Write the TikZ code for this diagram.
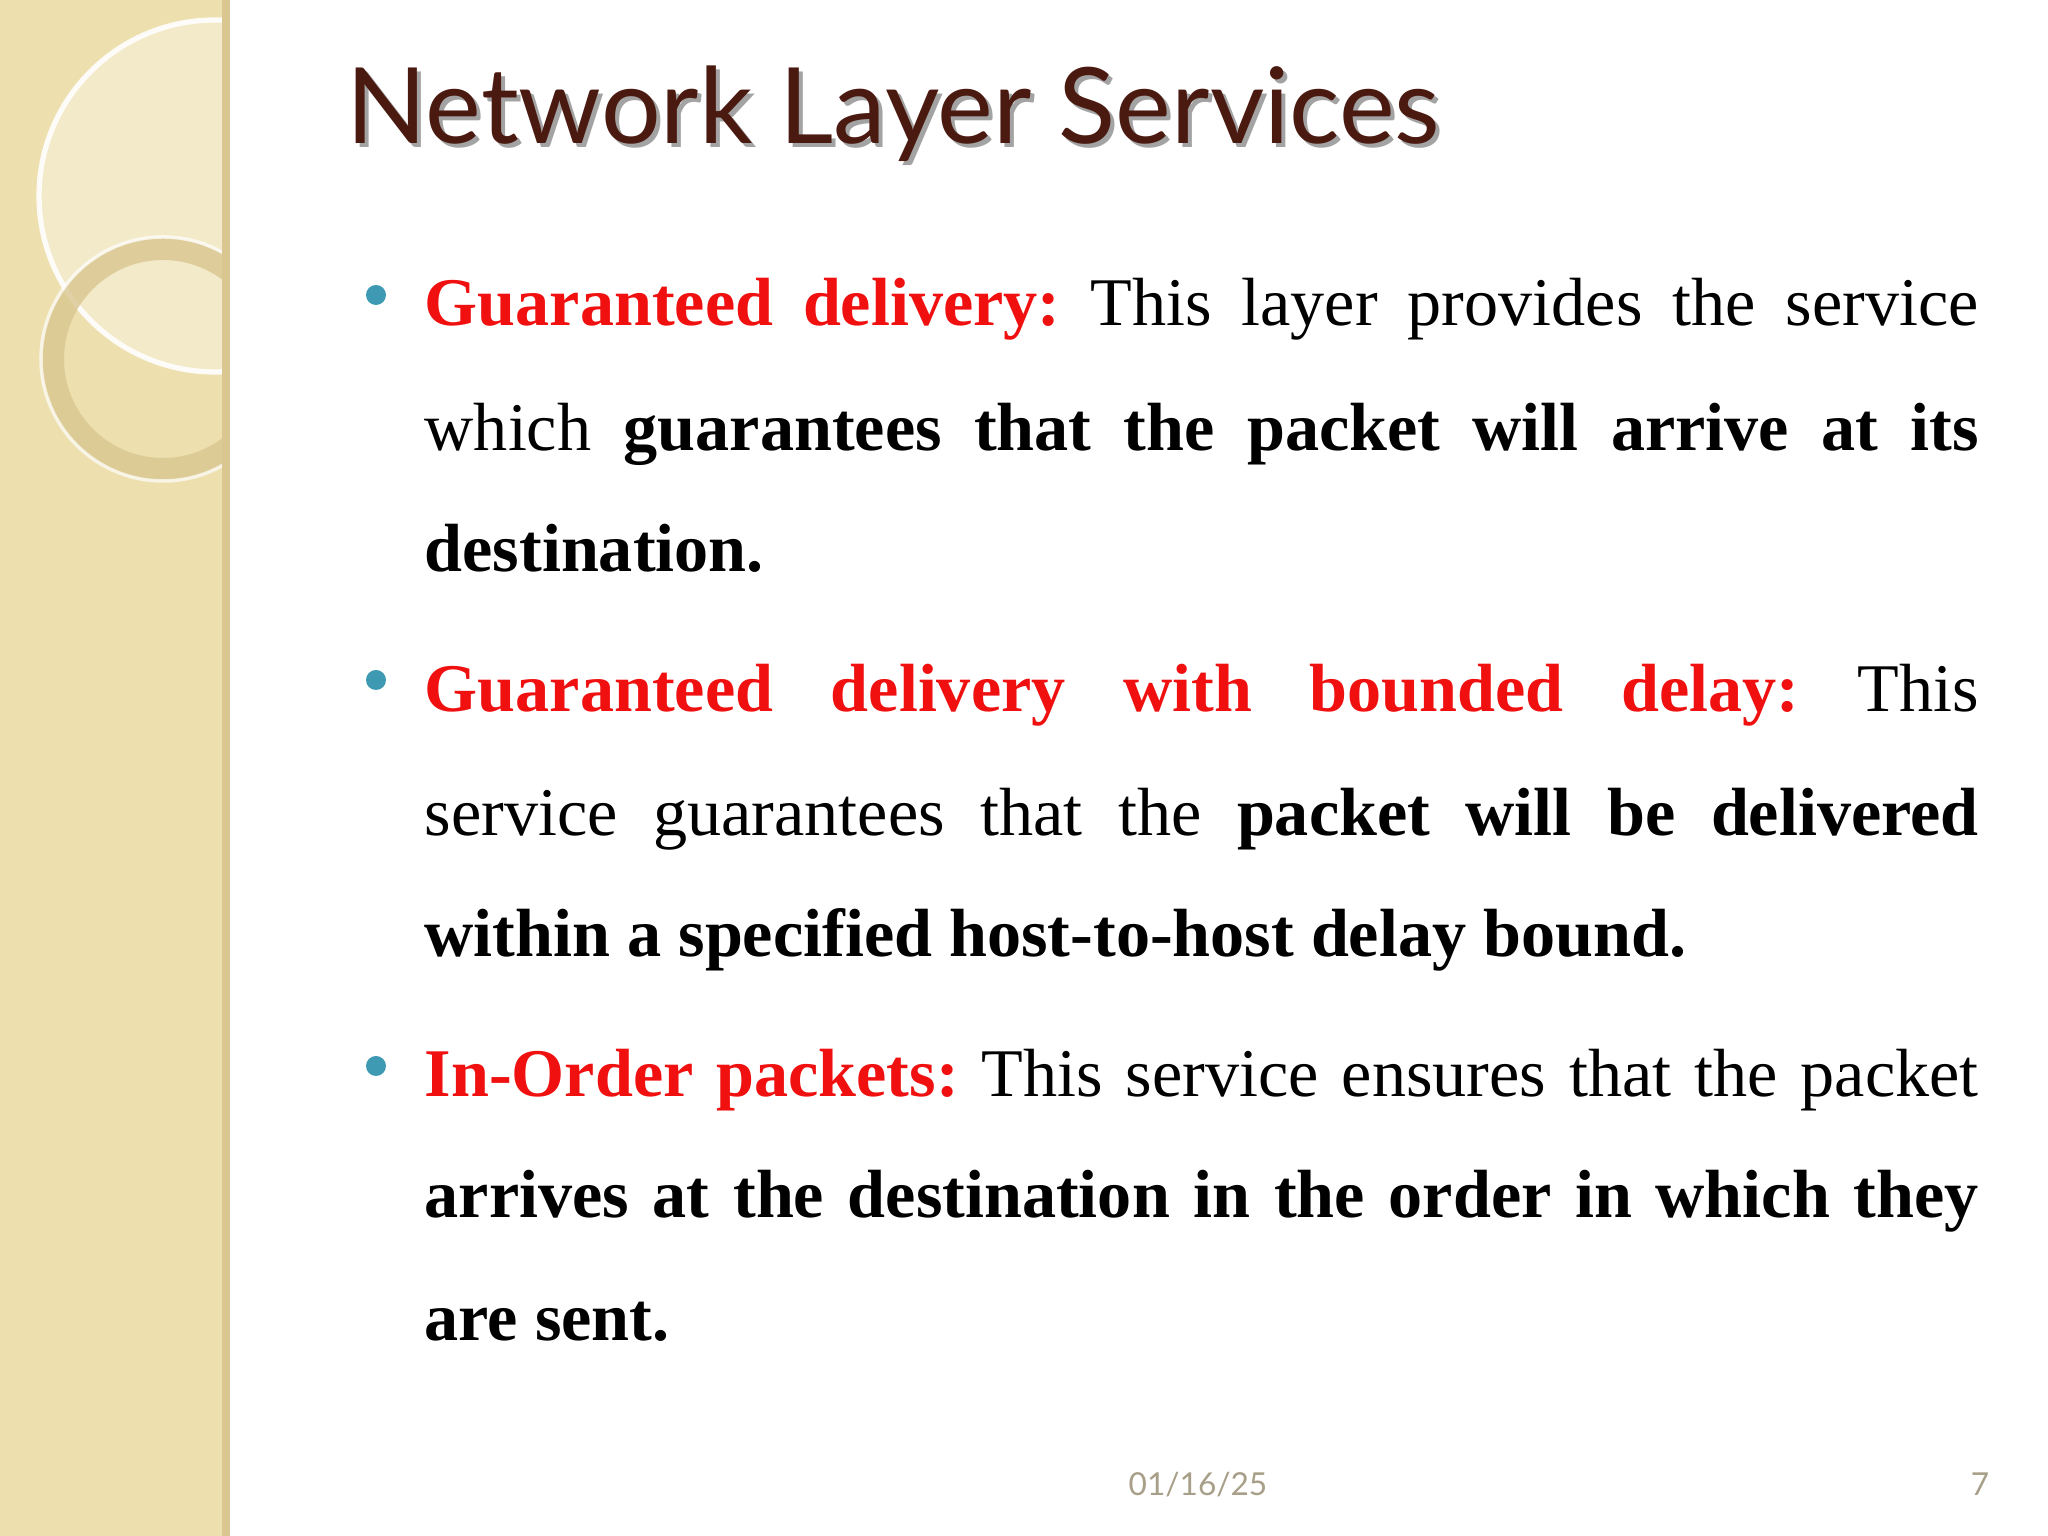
\documentclass[tikz,border=0pt]{standalone}
\usepackage{fontspec}
\setmainfont{Liberation Serif}
\newfontfamily\titlefont{Lato}
\frenchspacing
\definecolor{strip}{HTML}{EDDFAE}
\definecolor{stripdk}{HTML}{D9C690}
\definecolor{titlec}{HTML}{4A1A10}
\definecolor{bul}{HTML}{3E9AB2}
\definecolor{redt}{HTML}{F01010}
\definecolor{foot}{HTML}{A89F88}
\tikzset{ln/.style={anchor=base west,inner sep=0pt,font=\fontsize{19.4}{24}\selectfont},
 bulletdot/.style={circle,fill=bul,inner sep=0pt,minimum size=0.2cm}}
\newcommand{\jl}[1]{\makebox[15.54cm][s]{#1}}
\newcommand{\rb}[1]{\textcolor{redt}{\bfseries #1}}
\begin{document}
\begin{tikzpicture}
\useasboundingbox (0,0) rectangle (20.48,15.36);
\fill[white] (0,0) rectangle (20.48,15.36);
\fill[strip] (0,0) rectangle (2.26,15.36);
\begin{scope}
\clip (0,0) rectangle (2.26,15.36);
\fill[white,opacity=0.35] (2.15,13.4) circle (1.76);
\draw[white,line width=1.5pt,opacity=0.9] (2.15,13.4) circle (1.76);
\draw[stripdk,line width=0.22cm,opacity=0.8] (1.63,11.77) circle (1.1);
\draw[white,line width=1pt,opacity=0.7] (1.63,11.77) circle (1.22);
\end{scope}
\draw[stripdk,line width=2pt] (2.26,0) -- (2.26,15.36);
\node[anchor=base west,inner sep=0pt,text=black!60,opacity=0.6,font=\titlefont\fontsize{30}{36}\selectfont] (tsh) at (3.50,13.88) {Network Layer Services};
\node[anchor=base west,inner sep=0pt,text=titlec,font=\titlefont\fontsize{30}{36}\selectfont] (title) at (3.46,13.92) {Network Layer Services};
\node[bulletdot] (b1) at (3.76,12.41) {};
\node[bulletdot] (b2) at (3.76,8.56) {};
\node[bulletdot] (b3) at (3.76,4.70) {};
\node[ln] (l1) at (4.24,12.10) {\jl{\rb{Guaranteed delivery:} This layer provides the service}};
\node[ln] (l2) at (4.24,10.85) {\jl{which \textbf{guarantees that the packet will arrive at its}}};
\node[ln] (l3) at (4.24,9.64) {\textbf{destination.}};
\node[ln] (l4) at (4.24,8.24) {\jl{\rb{Guaranteed delivery with bounded delay:} This}};
\node[ln] (l5) at (4.24,7.00) {\jl{service guarantees that the \textbf{packet will be delivered}}};
\node[ln] (l6) at (4.24,5.79) {\textbf{within a specified host-to-host delay bound.}};
\node[ln] (l7) at (4.24,4.39) {\jl{\rb{In-Order packets:} This service ensures that the packet}};
\node[ln] (l8) at (4.24,3.18) {\jl{\textbf{arrives at the destination in the order in which they}}};
\node[ln] (l9) at (4.24,1.95) {\textbf{are sent.}};
\node[anchor=base,inner sep=0pt,text=foot,font=\titlefont\fontsize{9}{11}\selectfont] (date) at (11.98,0.40) {01/16/25};
\node[anchor=base,inner sep=0pt,text=foot,font=\titlefont\fontsize{9}{11}\selectfont] (pg) at (19.80,0.40) {7};
\end{tikzpicture}
\end{document}
